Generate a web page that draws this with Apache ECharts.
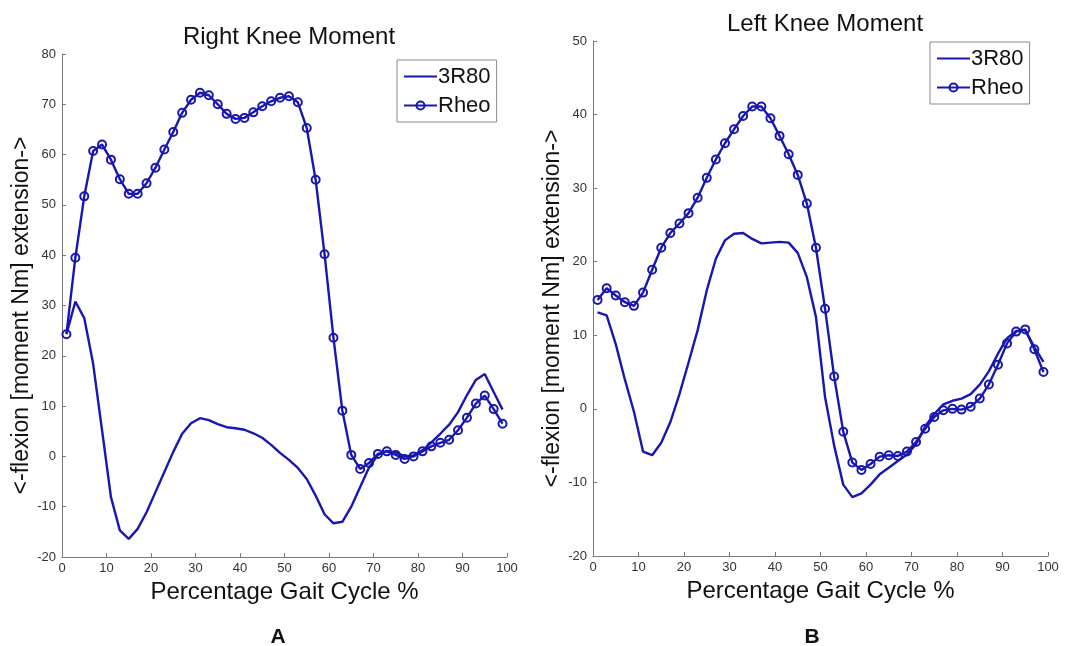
<!DOCTYPE html>
<html>
<head>
<meta charset="utf-8">
<script src="https://cdn.jsdelivr.net/npm/echarts@6/dist/echarts.min.js"></script>
<style>
html,body{margin:0;padding:0;background:#fff;}
#main{width:1065px;height:646px;}
</style>
</head>
<body>
<div id="main"></div>
<script>
// Gait cycle sample positions (%)
var gaitX = [1,3,5,7,9,11,13,15,17,19,21,23,25,27,29,31,33,35,37,39,41,43,45,47,49,
             51,53,55,57,59,61,63,65,67,69,71,73,75,77,79,81,83,85,87,89,91,93,95,97,99];

// Right knee moment (A)
var rightR80 = [24.3,30.8,27.5,18.4,5.2,-8.1,-14.7,-16.4,-14.4,-11.1,-7.1,-3.1,0.9,4.5,6.6,7.6,7.2,6.4,5.8,5.6,5.3,4.6,3.7,2.3,0.7,
                -0.7,-2.3,-4.5,-7.8,-11.5,-13.3,-13.0,-10.0,-6.1,-2.2,0.3,1.1,0.8,0.0,0.2,1.2,2.8,4.5,6.3,8.8,12.2,15.2,16.4,12.8,9.3];
var rightRheo = [24.3,39.5,51.7,60.7,62.0,59.0,55.1,52.2,52.2,54.3,57.4,61.0,64.5,68.3,70.9,72.3,71.8,70.0,68.1,67.1,67.3,68.4,69.6,70.6,71.3,
                 71.6,70.4,65.3,55.0,40.2,23.6,9.1,0.3,-2.5,-1.3,0.5,1.0,0.3,-0.5,0.0,1.0,2.0,2.7,3.3,5.2,7.7,10.5,12.1,9.4,6.5];

// Left knee moment (B)
var leftR80 = [13.1,12.7,8.8,4.0,-0.4,-5.8,-6.3,-4.6,-1.8,2.0,6.3,10.7,16.1,20.4,22.9,23.8,23.9,23.1,22.5,22.6,22.7,22.6,21.2,17.9,12.5,
               1.6,-5.0,-10.3,-12.0,-11.5,-10.3,-8.9,-8.0,-7.1,-6.2,-4.8,-2.4,-0.7,0.6,1.1,1.4,2.0,3.3,5.1,7.5,9.6,10.6,10.7,8.4,6.4];
var leftRheo = [14.8,16.4,15.4,14.5,14.0,15.8,18.9,21.9,23.9,25.2,26.6,28.7,31.4,33.9,36.1,38.0,39.8,41.1,41.1,39.5,37.1,34.6,31.8,27.9,21.9,
                13.6,4.4,-3.1,-7.3,-8.3,-7.5,-6.5,-6.3,-6.4,-5.8,-4.5,-2.7,-1.1,-0.2,0.0,-0.1,0.3,1.4,3.3,6.0,8.9,10.5,10.8,8.1,5.0];

var seriesNames = ['3R80','Rheo'];
var chartTitles = ['Right Knee Moment','Left Knee Moment'];
var panelLabels = ['A','B'];
var xName = 'Percentage Gait Cycle %';
var yName = '<-flexion [moment Nm] extension->';

function pairs(xs, ys){ return xs.map(function(x,i){ return [x, ys[i]]; }); }

var FONT = '"Liberation Sans", Arial, sans-serif';
var BLUE = '#1818b0';
var AXIS = '#7a7a7a';

function xAxisCfg(gi){
  return {
    type:'value', gridIndex:gi, min:0, max:100, interval:10,
    name:xName, nameLocation:'middle', nameGap:22,
    nameTextStyle:{fontFamily:FONT, fontSize:24, color:'#111'},
    axisLine:{show:true, onZero:false, lineStyle:{color:AXIS, width:1}},
    axisTick:{show:true, inside:true, length:4, lineStyle:{color:AXIS}},
    axisLabel:{fontFamily:FONT, fontSize:13, color:'#333', margin:5},
    splitLine:{show:false}
  };
}
function yAxisCfg(gi, min, max, gap){
  return {
    type:'value', gridIndex:gi, min:min, max:max, interval:10,
    name:yName, nameLocation:'middle', nameGap:gap, nameRotate:90,
    nameTextStyle:{fontFamily:FONT, fontSize:23, color:'#111', padding:[0,20,0,0]},
    axisLine:{show:true, onZero:false, lineStyle:{color:AXIS, width:1}},
    axisTick:{show:true, inside:true, length:4, lineStyle:{color:AXIS}},
    axisLabel:{fontFamily:FONT, fontSize:13, color:'#333', margin:6},
    splitLine:{show:false}
  };
}
function plainSeries(name, xi, data){
  return {
    name:name, type:'line', xAxisIndex:xi, yAxisIndex:xi, data:data,
    symbol:'none', smooth:false, animation:false,
    lineStyle:{color:BLUE, width:2.4}, itemStyle:{color:BLUE}
  };
}
function markerSeries(name, xi, data){
  return {
    name:name, type:'line', xAxisIndex:xi, yAxisIndex:xi, data:data,
    symbol:'circle', symbolSize:8, showSymbol:true, smooth:false, animation:false,
    lineStyle:{color:BLUE, width:2.4},
    itemStyle:{color:'rgba(255,255,255,0)', borderColor:BLUE, borderWidth:2}
  };
}
function legendCfg(left, top){
  return {
    orient:'vertical', left:left, top:top,
    data:[
      {name:seriesNames[0], itemStyle:{opacity:0}},
      {name:seriesNames[1]}
    ],
    borderColor:'#8a8a8a', borderWidth:1, padding:[4,6,4,6], itemGap:4,
    itemWidth:33, itemHeight:10,
    textStyle:{fontFamily:FONT, fontSize:22, color:'#111', lineHeight:25, padding:[0,0,0,-4]},
    selectedMode:false
  };
}

var chart = echarts.init(document.getElementById('main'), null, {renderer:'canvas'});
chart.setOption({
  backgroundColor:'#fff',
  animation:false,
  title:[
    {text:chartTitles[0], left:284, top:20, textAlign:'center', textStyle:{fontFamily:FONT, fontSize:24, fontWeight:'normal', color:'#111'}},
    {text:chartTitles[1], left:820, top:7, textAlign:'center', textStyle:{fontFamily:FONT, fontSize:24, fontWeight:'normal', color:'#111'}},
    {text:panelLabels[0], left:273, top:622, textAlign:'center', textStyle:{fontFamily:FONT, fontSize:21, fontWeight:'bold', color:'#111'}},
    {text:panelLabels[1], left:807, top:622, textAlign:'center', textStyle:{fontFamily:FONT, fontSize:21, fontWeight:'bold', color:'#111'}}
  ],
  legend:[legendCfg(397,60), legendCfg(930,42)],
  grid:[
    {left:62, top:54, width:445, height:503, containLabel:false},
    {left:593, top:41, width:455, height:515, containLabel:false}
  ],
  xAxis:[xAxisCfg(0), xAxisCfg(1)],
  yAxis:[yAxisCfg(0,-20,80,25), yAxisCfg(1,-20,50,27)],
  series:[
    plainSeries(seriesNames[0], 0, pairs(gaitX, rightR80)),
    markerSeries(seriesNames[1], 0, pairs(gaitX, rightRheo)),
    plainSeries(seriesNames[0], 1, pairs(gaitX, leftR80)),
    markerSeries(seriesNames[1], 1, pairs(gaitX, leftRheo))
  ]
});
</script>
</body>
</html>
